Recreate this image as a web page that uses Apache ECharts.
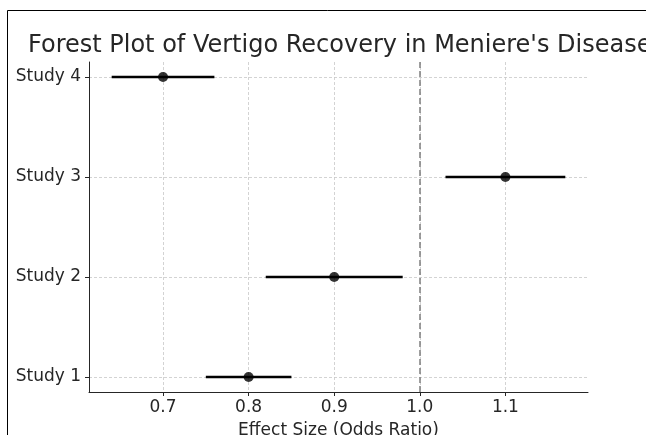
<!DOCTYPE html>
<html>
<head>
<meta charset="utf-8">
<script src="https://cdn.jsdelivr.net/npm/echarts@6/dist/echarts.min.js"></script>
<style>html,body{margin:0;padding:0;background:#fff;}#c{width:646px;height:435px;}</style>
</head>
<body>
<div id="c"></div>
<script>
const studies = ['Study 1', 'Study 2', 'Study 3', 'Study 4'];
const estimates = [0.80, 0.90, 1.10, 0.70];
const lowerCI = [0.75, 0.82, 1.03, 0.64];
const upperCI = [0.85, 0.98, 1.17, 0.76];
const xTicks = [0.7, 0.8, 0.9, 1.0, 1.1];
const refValue = 1.0;

const FONT = 'DejaVu Sans';
const chart = echarts.init(document.getElementById('c'), null, {renderer: 'canvas'});

const allLo = Math.min(...lowerCI), allHi = Math.max(...upperCI);
const xPad = (allHi - allLo) * 0.05;
const yPad = (studies.length - 1) * 0.05;

const ciData = studies.map((s, i) => [lowerCI[i], upperCI[i], i]);
const ptData = studies.map((s, i) => [estimates[i], i]);

chart.setOption({
  animation: false,
  backgroundColor: '#ffffff',
  title: {
    text: "Forest Plot of Vertigo Recovery in Meniere's Disease",
    left: 28, top: 34, padding: 0,
    textStyle: {fontFamily: FONT, fontSize: 24, fontWeight: 'normal', color: '#262626'}
  },
  graphic: [{
    type: 'rect', shape: {x: 7.5, y: 10.5, width: 800, height: 600},
    style: {fill: null, stroke: '#000', lineWidth: 1}, silent: true
  }],
  grid: {left: 89, right: 58, top: 62, bottom: 43, outerBoundsMode: 'none', containLabel: false},
  xAxis: {
    type: 'value', min: allLo - xPad, max: allHi + xPad,
    name: 'Effect Size (Odds Ratio)', nameLocation: 'middle', nameGap: 30,
    nameTextStyle: {fontFamily: FONT, fontSize: 17, color: '#262626'},
    axisLine: {show: true, onZero: false, lineStyle: {color: '#262626', width: 1}},
    axisTick: {show: true, length: 4, customValues: xTicks, lineStyle: {color: '#262626'}},
    axisLabel: {customValues: xTicks, fontFamily: FONT, fontSize: 17, color: '#262626', margin: 7,
      formatter: v => v.toFixed(1)},
    splitLine: {show: true, lineStyle: {color: '#c8c8c8', type: [3, 2], width: 0.8}}
  },
  yAxis: {
    type: 'value', min: -yPad, max: studies.length - 1 + yPad,
    axisLine: {show: true, onZero: false, lineStyle: {color: '#262626', width: 1}},
    axisTick: {show: true, length: 4, customValues: [0, 1, 2, 3], lineStyle: {color: '#262626'}},
    axisLabel: {customValues: [0, 1, 2, 3], fontFamily: FONT, fontSize: 17, color: '#262626', margin: 8,
      formatter: v => studies[Math.round(v)]},
    splitLine: {show: true, lineStyle: {color: '#c8c8c8', type: [3, 2], width: 0.8}}
  },
  series: [
    {
      type: 'custom',
      data: ciData,
      encode: {x: [0, 1], y: 2},
      renderItem: (params, api) => {
        const a = api.coord([api.value(0), api.value(2)]);
        const b = api.coord([api.value(1), api.value(2)]);
        return {type: 'line', shape: {x1: a[0], y1: a[1], x2: b[0], y2: b[1]},
          style: {stroke: '#000', lineWidth: 2.5}};
      },
      z: 3
    },
    {
      type: 'scatter',
      data: ptData,
      symbol: 'circle', symbolSize: 10,
      itemStyle: {color: '#000'},
      z: 4,
      markLine: {
        silent: true, symbol: 'none', label: {show: false},
        lineStyle: {color: '#7f7f7f', type: [6, 3], width: 1.5},
        data: [{xAxis: refValue}]
      }
    }
  ]
});
</script>
</body>
</html>
